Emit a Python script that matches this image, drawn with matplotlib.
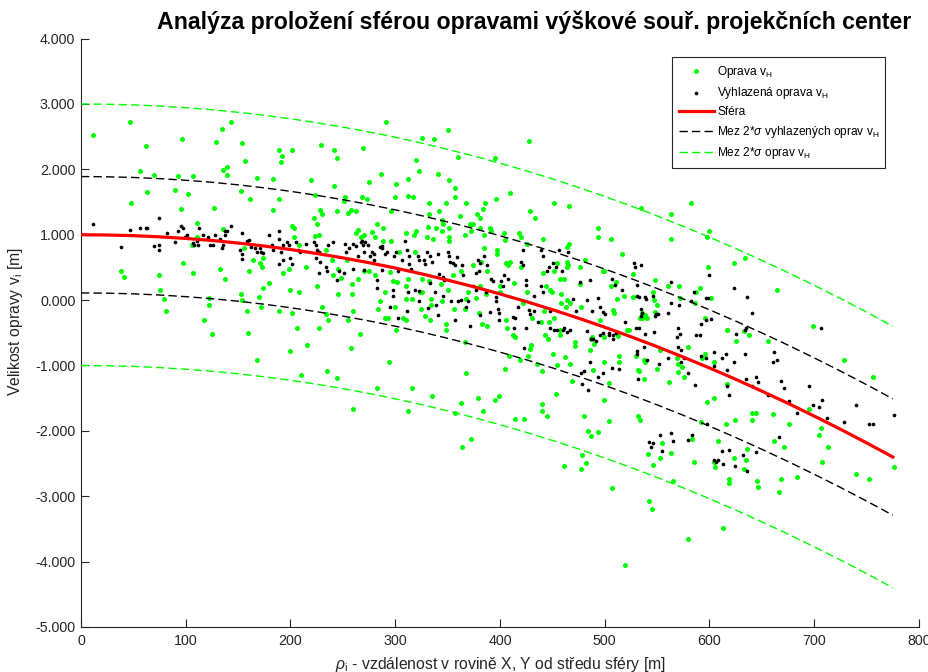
import matplotlib
matplotlib.use('Agg')
import matplotlib.pyplot as plt
from matplotlib.ticker import FormatStrFormatter, MultipleLocator

plt.rcParams['font.family'] = ['Liberation Sans', 'DejaVu Sans']
plt.rcParams['mathtext.fontset'] = 'custom'
plt.rcParams['mathtext.rm'] = 'Liberation Sans'
plt.rcParams['mathtext.it'] = 'Liberation Sans:italic'

# ---------------- data ----------------
green_pts = [
(11,2.53),(47,2.72),(62,2.35),(56,1.97),(70,1.92),(63,1.66),(48,1.49),(96,2.47),(93,1.90),(107,1.90),
(90,1.69),(102,1.62),(95,1.40),(129,2.42),(135,2.61),(143,2.73),(136,1.99),(139,2.03),(139,1.92),(127,1.41),
(154,2.40),(157,2.13),(153,1.67),(161,1.55),(168,1.87),(189,2.29),(192,2.21),(191,2.12),(201,2.29),(183,1.86),
(189,1.54),(183,1.38),(229,2.38),(242,2.29),(244,2.18),(220,1.84),(242,1.74),(223,1.61),(228,1.38),(230,1.31),
(222,1.25),(225,1.16),(244,1.37),(252,1.58),(251,1.52),(258,1.38),(255,1.34),(263,1.36),(269,2.33),(268,1.57),
(264,1.08),(263,1.02),(267,0.96),(136,1.09),(111,1.18),(111,0.97),(106,0.85),(201,1.14),(203,1.11),(203,0.96),
(208,0.84),(223,0.98),(227,0.99),(234,0.77),(156,0.80),(174,0.65),(164,0.62),(171,0.56),(173,0.50),(160,0.45),
(193,0.41),(199,0.48),(215,0.51),(240,0.61),(254,0.61),(245,0.48),(241,0.39),(248,0.34),(259,0.24),(264,0.33),
(38,0.45),(41,0.36),(97,0.56),(107,0.41),(74,0.38),(133,0.47),(137,0.33),(75,0.15),(79,0.01),(81,-0.16),
(117,-0.31),(122,0.03),(122,-0.08),(153,0.10),(154,0.00),(158,-0.16),(170,0.04),(172,-0.11),(174,0.18),(179,0.26),
(189,-0.16),(200,0.15),(201,-0.20),(208,0.12),(206,-0.42),(225,0.21),(230,-0.11),(234,-0.22),(236,-0.31),(227,-0.42),
(245,0.09),(259,0.10),(260,-0.17),(255,-0.30),(159,-0.51),(125,-0.52),(168,-0.91),(200,-0.78),(216,-0.69),(210,-1.14),
(235,-1.09),(244,-1.19),(258,-0.74),(266,-0.52),(260,-1.67),(291,2.72),(326,2.48),(337,2.47),(350,2.60),(320,2.15),
(323,1.98),(360,2.19),(395,2.17),(428,2.43),(275,1.81),(286,1.93),(301,1.77),(312,1.86),(341,1.93),(351,1.84),
(300,1.57),(312,1.60),(317,1.58),(357,1.71),(357,1.58),(273,1.55),(296,1.36),(332,1.48),(348,1.48),(342,1.37),
(368,1.49),(396,1.55),(410,1.64),(429,1.37),(433,1.25),(452,1.49),(466,1.44),(386,1.48),(384,1.40),(378,1.31),
(381,1.26),(374,1.17),(362,1.28),(332,1.31),(345,1.23),(346,1.16),(345,1.06),(351,1.11),(331,1.12),(339,1.11),
(320,1.06),(310,1.03),(318,1.00),(330,0.96),(336,0.94),(351,0.96),(351,0.91),(288,1.11),(283,1.17),(278,1.04),
(281,0.97),(270,1.00),(288,0.90),(296,0.91),(304,0.73),(319,0.73),(371,1.17),(367,0.99),(372,1.05),(381,1.10),
(390,1.10),(391,1.06),(385,0.99),(385,0.80),(397,0.77),(397,0.70),(404,1.02),(405,0.92),(418,1.03),(420,0.97),
(426,0.86),(441,0.94),(410,0.58),(420,0.50),(406,0.56),(454,0.56),(464,0.58),(465,0.54),(464,0.51),(466,0.86),
(464,0.82),(481,0.61),(494,1.11),(494,0.97),(506,0.94),(516,0.71),(498,0.45),(499,0.44),(476,0.51),(461,0.33),
(452,0.44),(441,0.42),(457,0.33),(444,0.22),(448,0.16),(450,0.13),(458,0.10),(464,0.00),(458,-0.04),(463,-0.11),
(467,-0.04),(476,0.24),(477,-0.11),(511,0.27),(506,0.21),(527,0.40),(527,0.04),(512,0.01),(518,0.07),(508,-0.15),
(509,-0.19),(536,-0.19),(536,-0.28),(495,-0.30),(523,-0.46),(270,0.44),(281,0.38),(275,0.45),(295,0.43),(298,0.29),
(302,0.28),(312,0.33),(326,0.33),(332,0.29),(310,0.22),(324,0.13),(326,0.12),(290,0.13),(285,-0.02),(284,-0.13),
(300,-0.10),(310,0.01),(316,0.01),(334,0.02),(334,-0.07),(325,-0.13),(328,-0.25),(333,-0.30),(307,-0.28),(310,-0.31),
(290,-0.27),(293,-0.27),(301,-0.45),(348,-0.36),(348,-0.46),(344,0.25),(350,0.16),(345,-0.02),(363,0.45),(355,0.39),
(356,-0.13),(367,-0.14),(368,0.01),(369,0.12),(374,0.53),(382,0.58),(388,0.45),(381,0.22),(387,0.10),(377,0.03),
(380,-0.20),(383,-0.37),(388,-0.39),(400,0.22),(400,0.12),(408,0.54),(406,-0.31),(407,-0.43),(413,0.26),(426,0.12),
(422,-0.04),(431,-0.28),(442,-0.17),(447,-0.34),(452,-0.27),(439,-0.34),(457,-0.45),(535,1.41),(582,1.48),(563,1.32),
(563,0.94),(600,1.06),(598,0.96),(623,0.56),(634,0.65),(599,0.50),(664,0.15),(699,-0.39),(548,0.31),(546,0.13),
(547,0.00),(550,-0.08),(548,-0.18),(538,-0.23),(540,-0.28),(534,-0.28),(560,0.22),(571,0.22),(572,0.03),(587,0.13),
(591,0.18),(586,-0.04),(601,0.03),(596,-0.27),(617,-0.46),(633,-0.47),(294,-0.95),(283,-1.34),(316,-1.35),(312,-1.70),
(335,-1.46),(357,-1.73),(363,-1.58),(368,-1.11),(367,-0.64),(379,-1.49),(384,-1.70),(395,-1.53),(399,-1.47),(372,-2.13),
(364,-2.25),(405,-1.06),(409,-0.86),(414,-1.82),(423,-1.82),(419,-0.91),(427,-0.86),(429,-0.75),(430,-0.68),(412,-0.53),
(414,-0.56),(435,-0.97),(440,-1.09),(440,-1.59),(440,-1.70),(445,-1.78),(443,-0.53),(446,-0.59),(451,-0.83),(453,-1.43),
(454,-1.00),(457,-0.53),(462,-0.87),(467,-0.97),(469,-1.24),(472,-0.64),(472,-0.70),(461,-2.53),(478,-2.37),(482,-2.49),
(477,-2.59),(480,-1.78),(484,-2.00),(487,-2.08),(494,-2.02),(499,-1.53),(504,-1.85),(507,-2.87),(519,-4.05),(486,-0.77),
(489,-1.07),(487,-0.59),(488,-0.56),(490,-0.67),(499,-0.94),(504,-1.27),(514,-0.85),(514,-0.94),(521,-0.46),(530,-0.86),
(532,-1.07),(533,-1.09),(532,-1.78),(534,-1.83),(537,-0.92),(537,-1.20),(513,-0.55),(499,-0.56),(538,-0.94),(550,-1.06),
(553,-0.77),(561,-1.26),(541,-2.36),(546,-2.52),(555,-2.19),(553,-2.42),(563,-2.34),(565,-2.77),(542,-3.08),(545,-3.20),
(579,-3.66),(579,-0.72),(569,-0.89),(570,-0.98),(574,-1.03),(570,-1.10),(576,-1.18),(583,-2.13),(585,-2.48),(592,-1.86),
(596,-0.82),(593,-0.89),(604,-0.94),(598,-1.56),(604,-1.49),(608,-2.15),(604,-2.48),(605,-2.56),(616,-1.90),(617,-1.29),
(613,-3.48),(617,-0.45),(625,-0.62),(619,-2.73),(619,-2.79),(624,-1.84),(623,-2.42),(633,-2.59),(635,-2.45),(636,-2.28),
(638,-0.53),(641,-1.72),(644,-1.73),(641,-1.84),(645,-2.77),(646,-2.86),(656,-0.62),(661,-1.74),(662,-2.16),(671,-2.25),
(668,-2.74),(666,-2.93),(676,-1.90),(684,-2.71),(695,-1.67),(706,-1.96),(705,-2.07),(713,-2.24),(707,-2.48),(740,-2.66),
(752,-2.74),(728,-0.91),(756,-1.17),(776,-2.56),
]

black_pts = [
(11,1.17),(38,0.82),(47,1.07),(56,1.10),(62,1.11),(63,1.10),(70,0.83),(74,0.85),(74,0.77),(74,1.25),
(82,1.02),(90,0.89),(93,1.06),(95,1.13),(97,1.11),(101,1.00),(99,0.97),(107,0.88),(108,0.85),(111,0.91),
(112,0.85),(113,1.11),(116,0.99),(121,0.97),(123,0.85),(126,0.85),(128,0.99),(133,0.94),(135,0.79),(136,0.85),
(137,1.05),(139,1.06),(143,1.13),(137,0.99),(154,1.03),(152,0.77),(154,0.70),(154,0.63),(158,0.91),(160,0.92),
(162,0.82),(166,0.80),(168,0.74),(171,0.80),(172,0.74),(174,0.72),(179,1.00),(182,0.85),(183,0.76),(189,1.06),
(189,0.94),(191,0.74),(193,0.84),(189,0.55),(193,0.61),(197,0.89),(199,0.84),(200,0.64),(201,0.55),(205,0.89),
(207,0.77),(209,0.73),(215,0.86),(222,0.89),(224,0.85),(225,0.77),(227,0.74),(224,0.65),(228,0.59),(227,0.42),
(234,0.50),(235,0.45),(236,0.84),(241,0.89),(244,0.30),(246,0.44),(251,0.42),(252,0.86),(253,0.74),(256,0.80),
(260,0.86),(260,0.48),(263,0.83),(264,0.68),(267,0.89),(269,0.85),(268,0.91),(271,0.89),(274,0.85),(270,0.74),
(276,0.68),(278,0.73),(280,0.71),(285,0.82),(287,0.79),(290,0.71),(292,0.74),(280,0.61),(270,0.46),(287,0.46),
(283,0.30),(283,0.19),(298,0.15),(298,0.07),(299,0.68),(301,0.74),(309,0.91),(306,0.61),(311,0.76),(313,0.68),
(313,0.55),(315,0.47),(322,0.68),(323,0.62),(327,0.61),(328,0.55),(330,0.74),(333,0.68),(335,0.59),(341,0.71),
(342,0.40),(346,0.36),(347,0.30),(350,0.74),(351,0.68),(352,0.59),(355,0.56),(357,0.53),(359,0.66),(364,0.53),
(365,0.38),(319,0.15),(323,0.14),(312,0.12),(323,-0.02),(331,-0.12),(339,-0.08),(341,-0.23),(353,-0.02),(360,-0.02),
(363,0.00),(357,-0.30),(369,-0.02),(368,-0.10),(371,-0.39),(374,0.21),(377,0.15),(379,0.62),(381,0.57),(377,0.42),
(380,0.44),(385,0.67),(387,0.13),(388,0.53),(391,0.33),(393,0.29),(396,0.05),(396,-0.02),(398,-0.13),(399,-0.20),
(401,0.29),(403,0.22),(399,-0.31),(404,0.38),(408,0.33),(412,-0.26),(414,-0.27),(417,-0.10),(420,0.59),(422,0.53),
(422,0.76),(425,0.30),(425,0.23),(428,-0.15),(429,-0.22),(432,-0.17),(432,0.07),(436,-0.33),(439,0.76),(441,0.68),
(439,0.21),(441,0.13),(445,0.44),(447,0.50),(448,-0.17),(451,0.57),(453,0.51),(456,0.76),(459,0.45),(461,-0.43),
(467,-0.46),(465,0.73),(470,0.02),(473,-0.17),(476,0.28),(483,0.00),(486,0.30),(488,-0.17),(494,0.03),(495,-0.10),
(498,-0.18),(500,-0.22),(507,0.33),(510,0.23),(516,0.16),(519,-0.33),(528,0.57),(529,0.51),(531,0.23),(531,0.07),
(533,0.04),(535,-0.24),(530,-0.43),(448,-0.43),(452,-0.46),(460,-0.46),(425,-0.43),(413,-0.43),(381,-0.23),(390,-0.18),
(287,0.83),(303,0.44),(333,0.26),(338,0.13),(346,0.07),(311,-0.16),(295,-0.11),(303,-0.28),(423,-0.73),(454,-0.46),
(464,-0.49),(483,-0.48),(487,-0.59),(489,-0.60),(492,-0.62),(495,-0.54),(498,-0.50),(504,-0.51),(504,-0.54),(508,-0.54),
(508,-0.60),(511,-0.50),(486,-0.95),(480,-1.08),(477,-1.12),(478,-1.29),(484,-1.37),(494,-1.17),(498,-1.11),(507,-1.04),
(514,-1.06),(531,-0.78),(531,-0.82),(532,-1.21),(535,0.54),(563,0.28),(600,0.38),(623,0.19),(636,0.04),(641,-0.19),
(538,0.04),(539,0.01),(546,0.07),(535,-0.14),(536,-0.19),(548,-0.24),(549,-0.22),(551,-0.22),(560,-0.19),(563,-0.04),
(571,-0.08),(582,-0.02),(585,0.12),(597,0.03),(599,0.03),(592,-0.37),(597,-0.31),(601,-0.29),(570,-0.43),(635,-0.43),
(706,-0.43),(533,-0.43),(538,-0.52),(547,-0.49),(537,-0.71),(540,-0.91),(552,-0.98),(560,-0.88),(569,-0.57),(572,-0.52),
(570,-0.71),(573,-0.77),(573,-0.95),(576,-0.88),(579,-1.11),(587,-0.54),(591,-0.54),(592,-0.86),(597,-0.89),(586,-1.30),
(604,-0.80),(612,-0.88),(616,-0.83),(604,-1.01),(617,-1.07),(623,-0.95),(625,-0.52),(634,-0.46),(634,-0.82),(635,-1.21),
(617,-1.32),(619,-1.45),(641,-1.32),(644,-1.18),(646,-1.26),(656,-1.45),(662,-0.80),(664,-0.91),(661,-0.95),(668,-1.23),
(671,-1.34),(676,-1.55),(684,-1.72),(695,-1.32),(699,-1.61),(705,-1.64),(707,-1.53),(712,-1.81),(728,-1.87),(740,-1.60),
(752,-1.90),(756,-1.89),(776,-1.76),(553,-2.07),(563,-2.04),(542,-2.17),(546,-2.19),(544,-2.24),(565,-2.16),(555,-2.31),
(579,-2.14),(583,-2.07),(598,-1.90),(612,-2.31),(604,-2.44),(608,-2.45),(606,-2.47),(613,-2.50),(619,-2.29),(624,-2.54),
(632,-2.37),(636,-2.61),(644,-2.33),(666,-2.10),
]

# fitted sphere profile
sphere_x = [0, 25, 50, 75, 100, 125, 150, 175, 200, 225, 250, 275, 300, 325, 350, 375,
            400, 425, 450, 475, 500, 525, 550, 575, 600, 625, 650, 675, 700, 725, 750, 775]
sphere_y = [1.000, 0.996, 0.986, 0.968, 0.943, 0.912, 0.873, 0.827, 0.774, 0.713, 0.646, 0.572,
            0.491, 0.402, 0.306, 0.204, 0.094, -0.022, -0.146, -0.277, -0.415, -0.560, -0.712,
            -0.872, -1.038, -1.211, -1.392, -1.579, -1.774, -1.975, -2.184, -2.400]

two_sigma_smooth = 0.89   # 2*sigma of smoothed corrections
two_sigma = 2.0           # 2*sigma of corrections

title = 'Analýza proložení sférou opravami výškové souř. projekčních center'
xlabel = r'$\rho_\mathrm{i}$ - vzdálenost v rovině X, Y od středu sféry [m]'
ylabel = r'Velikost opravy v$_\mathrm{i}$ [m]'
labels = [r'Oprava v$_\mathrm{H}$', r'Vyhlazená oprava v$_\mathrm{H}$', 'Sféra',
          r'Mez 2*$\sigma$ vyhlazených oprav v$_\mathrm{H}$', r'Mez 2*$\sigma$ oprav v$_\mathrm{H}$']

# ---------------- plot ----------------
gx = [p[0] for p in green_pts]; gy = [p[1] for p in green_pts]
bx = [p[0] for p in black_pts]; by = [p[1] for p in black_pts]

W, H = 929, 672
L, R, T, B = 81, 919, 38.6, 627
fig = plt.figure(figsize=(W/100, H/100), dpi=100)
ax = fig.add_axes([L/W, 1-B/H, (R-L)/W, (B-T)/H])

axc = '#262626'
GREEN = '#00ff00'

h1 = ax.scatter(gx, gy, s=13, c=GREEN, marker='o', linewidths=0, zorder=2)
h2 = ax.scatter(bx, by, s=7, c='k', marker='o', linewidths=0, zorder=3)
h3, = ax.plot(sphere_x, sphere_y, color='#ff0000', lw=2.3, zorder=4)
h4, = ax.plot(sphere_x, [v + two_sigma_smooth for v in sphere_y], color='k', lw=1.0,
              dashes=(6, 3), zorder=4)
ax.plot(sphere_x, [v - two_sigma_smooth for v in sphere_y], color='k', lw=1.0,
        dashes=(6, 3), zorder=4)
h5, = ax.plot(sphere_x, [v + two_sigma for v in sphere_y], color=GREEN, lw=1.0,
              dashes=(6, 3), zorder=4)
ax.plot(sphere_x, [v - two_sigma for v in sphere_y], color=GREEN, lw=1.0,
        dashes=(6, 3), zorder=4)

ax.set_xlim(0, 800)
ax.set_ylim(-5, 4)
ax.xaxis.set_major_locator(MultipleLocator(100))
ax.yaxis.set_major_locator(MultipleLocator(1))
ax.yaxis.set_major_formatter(FormatStrFormatter('%.3f'))

for s in ['top', 'right']:
    ax.spines[s].set_visible(False)
for s in ['left', 'bottom']:
    ax.spines[s].set_color(axc)
    ax.spines[s].set_linewidth(0.8)
ax.tick_params(direction='in', length=6, width=0.8, colors=axc, labelsize=10.3)
ax.tick_params(axis='x', pad=5)
ax.tick_params(axis='y', pad=4)

ax.set_title(title, fontsize=16.7, fontweight='bold', x=(534-L)/(R-L), pad=7, color='k')
ax.set_xlabel(xlabel, fontsize=11.3, color=axc)
ax.xaxis.set_label_coords(0.5, -0.047)
ax.set_ylabel(ylabel, fontsize=11.3, color=axc)
ax.yaxis.set_label_coords(-0.067, 0.52)

x0 = (672-L)/(R-L); x1 = (885-L)/(R-L)
ytop = (B-57)/(B-T)
leg = ax.legend([h1, h2, h3, h4, h5], labels, loc='upper left',
                bbox_to_anchor=(x0, ytop - 0.2, x1 - x0, 0.2), mode='expand',
                fontsize=8.6, frameon=True,
                fancybox=False, edgecolor=axc, framealpha=1, handlelength=3.0,
                handletextpad=0.25, borderpad=0.55, labelspacing=0.45,
                borderaxespad=0, scatterpoints=1)
leg.get_frame().set_linewidth(0.8)

fig.savefig('out.png', dpi=100)
